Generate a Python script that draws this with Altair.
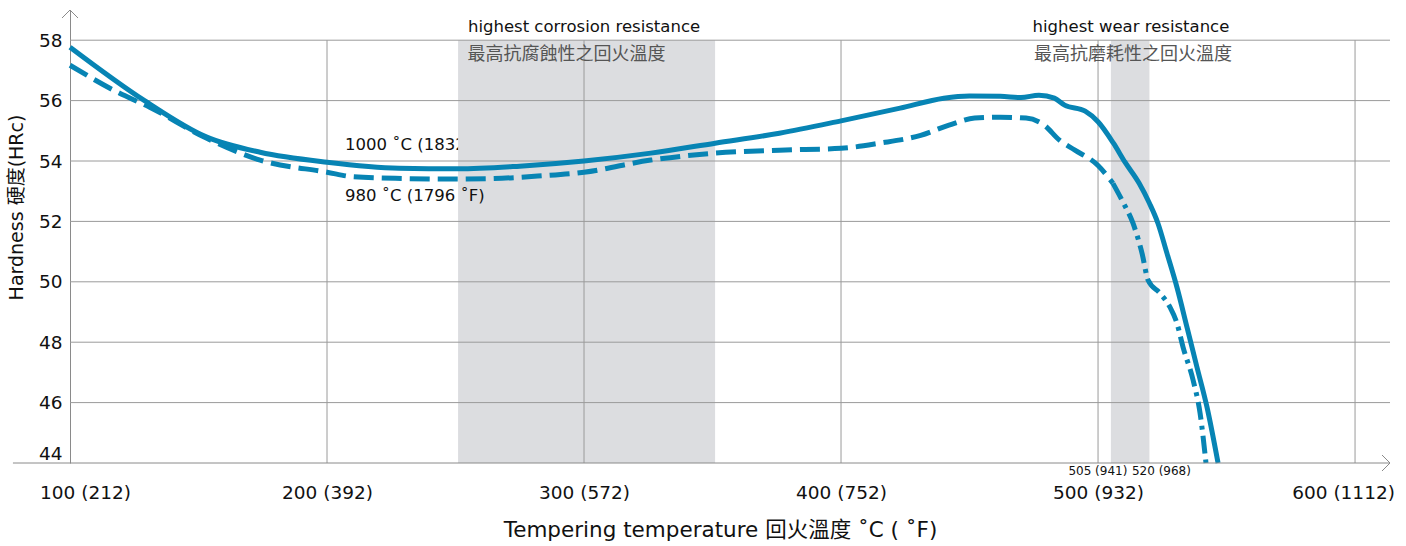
import altair as alt
import pandas as pd

# ---- data ----
solid_x = [100, 129, 153, 174, 200, 228, 251, 275, 300, 326, 351, 376, 400, 423, 440, 450, 462, 470, 477, 483, 487, 495, 500, 506, 510.5, 516, 520, 523.3, 526.8, 530.7, 534.6, 538.5, 542.4, 546.7]
solid_y = [57.77, 56.0, 54.8, 54.29, 53.96, 53.76, 53.74, 53.83, 54.0, 54.26, 54.59, 54.92, 55.33, 55.75, 56.08, 56.15, 56.14, 56.1, 56.18, 56.08, 55.85, 55.65, 55.3, 54.59, 53.96, 53.26, 52.6, 51.94, 50.95, 49.82, 48.5, 47.17, 45.85, 44.0]

dash_x = [100, 118, 131, 153, 174, 200, 210, 230, 249, 265, 282, 300, 326, 351, 376, 400, 415, 431, 442, 452, 462, 472, 479, 485, 491, 500, 505.8]
dash_y = [57.17, 56.3, 55.78, 54.76, 54.03, 53.63, 53.48, 53.42, 53.4, 53.42, 53.5, 53.63, 54.03, 54.26, 54.36, 54.42, 54.59, 54.85, 55.19, 55.42, 55.45, 55.42, 55.19, 54.69, 54.36, 53.85, 53.26]

tail_x = [505.8, 509.7, 513.6, 517.1, 519.5, 524.1, 528, 530.7, 533.1, 537, 539.7, 542]
tail_y = [53.26, 52.64, 51.94, 50.95, 50.05, 49.62, 49.16, 48.63, 47.83, 46.74, 45.65, 44.0]

x_ticks = [100, 200, 300, 400, 500, 600]
y_ticks = [44, 46, 48, 50, 52, 54, 56, 58]
grid_x = [200, 300, 400, 500, 600]
grid_y = [46, 48, 50, 52, 54, 56, 58]

band_start = [251, 505]
band_end = [351, 520]

label_1000 = "1000 ˚C (1832 ˚F)"
label_980 = "980 ˚C (1796 ˚F)"
series_label_x = [207, 207]
series_label_y = [54.52, 52.83]

anno_en = ["highest corrosion resistance", "highest wear resistance"]
anno_en_x = [300, 512.8]
anno_en_y = [58.43, 58.43]
anno_zh = ["最高抗腐蝕性之回火溫度", "最高抗磨耗性之回火溫度"]
anno_zh_x = [293.2, 513.6]
anno_zh_y = [57.5, 57.5]

small_labels = ["505 (941)", "520 (968)"]
small_label_x = [505, 520]

XMIN, XMAX = 100, 613.6
YMIN, YMAX = 44, 59

FONT = "'DejaVu Sans', 'Noto Sans CJK TC', sans-serif"
BLUE = "#0784b4"
GRID = "#9a9a9a"
AXIS = "#8a8a8a"
BAND = "#dcdde0"

xs = alt.Scale(domain=[XMIN, XMAX], nice=False, zero=False)
ys = alt.Scale(domain=[YMIN, YMAX], nice=False, zero=False)

x_axis = alt.Axis(
    values=x_ticks, domain=False, ticks=False, grid=False, labelFlush=False,
    labelExpr="datum.value + ' (' + round(datum.value * 9 / 5 + 32) + ')'",
    labelFontSize=18.5, labelFont=FONT, labelColor="#111", labelPadding=20,
    labelOffset=alt.ExprRef(expr="datum.value == 100 ? 15 : (datum.value == 600 ? -12 : 0)"),
    title="Tempering temperature 回火溫度 ˚C ( ˚F)", titleFont=FONT, titleFontSize=21.5,
    titleFontWeight="normal", titleColor="#111", titlePadding=18, titleX=650,
)
y_axis = alt.Axis(
    values=y_ticks, domain=True, domainColor=AXIS, domainWidth=1, ticks=False, grid=False,
    labelFontSize=18.5, labelFont=FONT, labelColor="#111", labelPadding=8,
    labelBaseline=alt.ExprRef(expr="datum.value == 44 ? 'bottom' : 'middle'"),
    title="Hardness 硬度(HRc)", titleFont=FONT, titleFontSize=19,
    titleFontWeight="normal", titleColor="#111", titlePadding=12, titleY=197,
)

def X(field="x"):
    return alt.X(f"{field}:Q", scale=xs, axis=x_axis)

def Y(field="y"):
    return alt.Y(f"{field}:Q", scale=ys, axis=y_axis)

solid_df = pd.DataFrame({"x": solid_x, "y": solid_y})
dash_df = pd.DataFrame({"x": dash_x, "y": dash_y})
tail_df = pd.DataFrame({"x": tail_x, "y": tail_y})
band_df = pd.DataFrame({"x": band_start, "x2": band_end, "y": [YMIN] * 2, "y2": [58] * 2})
gx_df = pd.DataFrame({"x": grid_x, "y": [YMIN] * len(grid_x), "y2": [58] * len(grid_x)})
gy_df = pd.DataFrame({"y": grid_y, "x": [XMIN] * len(grid_y), "x2": [XMAX] * len(grid_y)})
l1000_df = pd.DataFrame({"x": [series_label_x[0]], "y": [series_label_y[0]], "t": [label_1000]})
l980_df = pd.DataFrame({"x": [series_label_x[1]], "y": [series_label_y[1]], "t": [label_980]})
en_df = pd.DataFrame({"x": anno_en_x, "y": anno_en_y, "t": anno_en})
zh_df = pd.DataFrame({"x": anno_zh_x, "y": anno_zh_y, "t": anno_zh})
sm1_df = pd.DataFrame({"x": [small_label_x[0]], "y": [YMIN], "t": [small_labels[0]]})
sm2_df = pd.DataFrame({"x": [small_label_x[1]], "y": [YMIN], "t": [small_labels[1]]})
xaxis_df = pd.DataFrame({"x": [XMIN - 22.2], "x2": [XMAX], "y": [YMIN]})
arrow_x_df = pd.DataFrame({"x": [XMAX], "y": [YMIN]})
arrow_y_df = pd.DataFrame({"x": [XMIN], "y": [YMAX]})

def label_layer(df):
    return alt.Chart(df).mark_text(
        font=FONT, fontSize=16.5, color="#111", align="left", baseline="middle"
    ).encode(x=X(), y=Y(), text="t:N")

text_1000 = label_layer(l1000_df)
text_980 = label_layer(l980_df)

bands = alt.Chart(band_df).mark_rect(color=BAND).encode(x=X(), x2="x2:Q", y=Y(), y2="y2:Q")

gridx = alt.Chart(gx_df).mark_rule(color=GRID, strokeWidth=1).encode(x=X(), y=Y(), y2="y2:Q")
gridy = alt.Chart(gy_df).mark_rule(color=GRID, strokeWidth=1).encode(y=Y(), x=X(), x2="x2:Q")

dashed = alt.Chart(dash_df).mark_line(
    color=BLUE, strokeWidth=5, strokeDash=[20, 8], interpolate="monotone"
).encode(x=X(), y=Y())
tail = alt.Chart(tail_df).mark_line(
    color=BLUE, strokeWidth=5, strokeDash=[18, 6, 4, 6], interpolate="monotone"
).encode(x=X(), y=Y())
solid = alt.Chart(solid_df).mark_line(
    color=BLUE, strokeWidth=5, interpolate="monotone"
).encode(x=X(), y=Y())

en_text = alt.Chart(en_df).mark_text(
    font=FONT, fontSize=16.5, color="#111", align="center", baseline="middle"
).encode(x=X(), y=Y(), text="t:N")
zh_text = alt.Chart(zh_df).mark_text(
    font="'Noto Sans CJK TC', sans-serif", fontSize=18, color="#555", align="center", baseline="middle"
).encode(x=X(), y=Y(), text="t:N")

sm1 = alt.Chart(sm1_df).mark_text(
    font=FONT, fontSize=12, color="#111", align="center", baseline="top", dx=-13, dy=3
).encode(x=X(), y=Y(), text="t:N")
sm2 = alt.Chart(sm2_df).mark_text(
    font=FONT, fontSize=12, color="#111", align="center", baseline="top", dx=12, dy=3
).encode(x=X(), y=Y(), text="t:N")

xaxis_line = alt.Chart(xaxis_df).mark_rule(color=AXIS, strokeWidth=1).encode(x=X(), x2="x2:Q", y=Y())
arrow_x = alt.Chart(arrow_x_df).mark_point(
    shape="M-1,-1L0,0L-1,1", size=256, filled=False, color=AXIS, strokeWidth=1, opacity=1
).encode(x=X(), y=Y())
arrow_y = alt.Chart(arrow_y_df).mark_point(
    shape="M-1,1L0,0L1,1", size=256, filled=False, color=AXIS, strokeWidth=1, opacity=1
).encode(x=X(), y=Y())

chart = alt.layer(
    text_1000, bands, text_980, gridx, gridy, dashed, tail, solid,
    en_text, zh_text, sm1, sm2, xaxis_line, arrow_x, arrow_y
).properties(
    width=1320, height=453,
    autosize=alt.AutoSizeParams(type="none"),
    padding={"left": 70, "top": 10, "right": 16, "bottom": 83},
    background="white",
).configure_view(stroke=None)

chart.save("out.html", embed_options={"renderer": "svg", "actions": False})
